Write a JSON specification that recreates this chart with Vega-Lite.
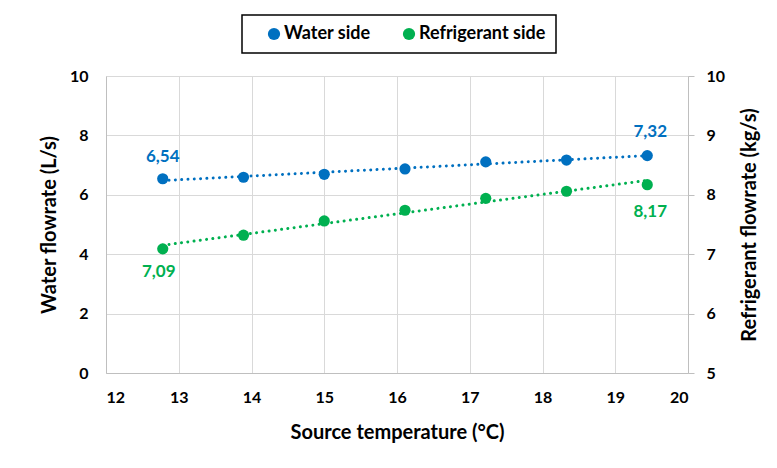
{
  "$schema": "https://vega.github.io/schema/vega-lite/v6.json",
  "width": 582,
  "height": 297,
  "autosize": {"type": "none"},
  "padding": {"left": 106, "top": 76, "right": 89, "bottom": 95},
  "background": "white",
  "config": {
    "font": "Lato",
    "locale": {
      "number": {"decimal": ",", "thousands": ".", "grouping": [3], "currency": ["", " €"]}
    },
    "view": {"stroke": null},
    "axis": {
      "labelFont": "Lato",
      "labelFontSize": 16,
      "labelFontWeight": "bold",
      "labelColor": "#000000",
      "titleFont": "Lato",
      "titleFontSize": 20,
      "titleFontWeight": "bold",
      "titleColor": "#000000",
      "domainColor": "#BFBFBF",
      "domainWidth": 1,
      "gridColor": "#D9D9D9",
      "gridWidth": 1,
      "tickColor": "#BFBFBF"
    },
    "legend": {
      "orient": "none",
      "legendX": 136,
      "legendY": -61,
      "direction": "horizontal",
      "title": null,
      "strokeColor": "#000000",
      "strokeWidth": 1.5,
      "padding": 10,
      "symbolOffset": 13,
      "symbolType": "circle",
      "symbolSize": 150,
      "symbolStrokeWidth": 0,
      "labelFont": "Lato",
      "labelFontSize": 18,
      "labelFontWeight": "bold",
      "labelColor": "#000000",
      "labelOffset": 1,
      "columnPadding": 16
    }
  },
  "data": {
    "values": [
      {"series": "Water side", "temp": 12.78, "flow": 6.54},
      {"series": "Water side", "temp": 13.89, "flow": 6.59},
      {"series": "Water side", "temp": 15.0, "flow": 6.69},
      {"series": "Water side", "temp": 16.11, "flow": 6.87},
      {"series": "Water side", "temp": 17.22, "flow": 7.11},
      {"series": "Water side", "temp": 18.33, "flow": 7.17},
      {"series": "Water side", "temp": 19.44, "flow": 7.32},
      {"series": "Refrigerant side", "temp": 12.78, "flow": 7.09},
      {"series": "Refrigerant side", "temp": 13.89, "flow": 7.32},
      {"series": "Refrigerant side", "temp": 15.0, "flow": 7.56},
      {"series": "Refrigerant side", "temp": 16.11, "flow": 7.74},
      {"series": "Refrigerant side", "temp": 17.22, "flow": 7.94},
      {"series": "Refrigerant side", "temp": 18.33, "flow": 8.06},
      {"series": "Refrigerant side", "temp": 19.44, "flow": 8.17}
    ]
  },
  "encoding": {
    "x": {
      "field": "temp",
      "type": "quantitative",
      "scale": {"domain": [12, 20], "nice": false, "zero": false},
      "axis": {
        "title": "Source temperature (°C)",
        "values": [12, 13, 14, 15, 16, 17, 18, 19, 20],
        "grid": true,
        "ticks": false,
        "labelPadding": 16,
        "titlePadding": 17
      }
    }
  },
  "layer": [
    {
      "transform": [{"filter": "datum.series === 'Water side'"}],
      "encoding": {
        "y": {
          "field": "flow",
          "type": "quantitative",
          "scale": {"domain": [0, 10], "nice": false},
          "axis": {
            "orient": "left",
            "title": "Water flowrate (L/s)",
            "values": [0, 2, 4, 6, 8, 10],
            "grid": true,
            "ticks": false,
            "labelPadding": 18,
            "titlePadding": 10
          }
        }
      },
      "layer": [
        {
          "transform": [{"regression": "flow", "on": "temp"}],
          "mark": {"type": "line", "stroke": "#0070C0", "strokeWidth": 3, "strokeDash": [0.01, 6.3], "strokeCap": "round"}
        },
        {
          "mark": {"type": "point", "filled": true, "size": 125, "opacity": 1},
          "encoding": {
            "color": {
              "field": "series",
              "type": "nominal",
              "scale": {"domain": ["Water side", "Refrigerant side"], "range": ["#0070C0", "#00B050"]}
            }
          }
        },
        {
          "transform": [{"filter": "datum.temp < 13"}],
          "mark": {"type": "text", "dy": -22, "color": "#0070C0", "fontSize": 17, "fontWeight": "bold"},
          "encoding": {"text": {"field": "flow", "type": "quantitative", "format": ".2f"}}
        },
        {
          "transform": [{"filter": "datum.temp > 19"}],
          "mark": {"type": "text", "dy": -24, "dx": 3, "color": "#0070C0", "fontSize": 17, "fontWeight": "bold"},
          "encoding": {"text": {"field": "flow", "type": "quantitative", "format": ".2f"}}
        }
      ]
    },
    {
      "transform": [{"filter": "datum.series === 'Refrigerant side'"}],
      "encoding": {
        "y": {
          "field": "flow",
          "type": "quantitative",
          "scale": {"domain": [5, 10], "nice": false, "zero": false},
          "axis": {
            "orient": "right",
            "title": "Refrigerant flowrate (kg/s)",
            "titleAngle": 270,
            "values": [5, 6, 7, 8, 9, 10],
            "grid": false,
            "ticks": true,
            "tickSize": 6,
            "labelPadding": 12,
            "titlePadding": 35
          }
        }
      },
      "layer": [
        {
          "transform": [{"regression": "flow", "on": "temp"}],
          "mark": {"type": "line", "stroke": "#00B050", "strokeWidth": 3, "strokeDash": [0.01, 6.3], "strokeCap": "round"}
        },
        {
          "mark": {"type": "point", "filled": true, "size": 125, "opacity": 1},
          "encoding": {
            "color": {
              "field": "series",
              "type": "nominal",
              "scale": {"domain": ["Water side", "Refrigerant side"], "range": ["#0070C0", "#00B050"]}
            }
          }
        },
        {
          "transform": [{"filter": "datum.temp < 13"}],
          "mark": {"type": "text", "dy": 23, "dx": -4, "color": "#00B050", "fontSize": 17, "fontWeight": "bold"},
          "encoding": {"text": {"field": "flow", "type": "quantitative", "format": ".2f"}}
        },
        {
          "transform": [{"filter": "datum.temp > 19"}],
          "mark": {"type": "text", "dy": 27, "dx": 3, "color": "#00B050", "fontSize": 17, "fontWeight": "bold"},
          "encoding": {"text": {"field": "flow", "type": "quantitative", "format": ".2f"}}
        }
      ]
    }
  ],
  "resolve": {"scale": {"y": "independent"}}
}
